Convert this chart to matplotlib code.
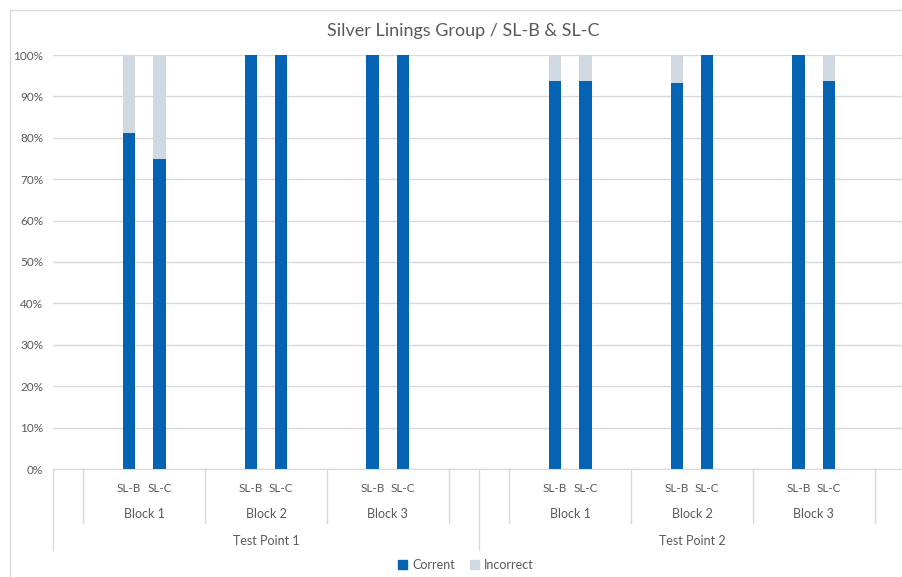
import matplotlib.pyplot as plt
import numpy as np
from matplotlib.patches import Patch, Rectangle
from matplotlib.lines import Line2D

plt.rcParams['font.family'] = ['Lato', 'DejaVu Sans']

# data ------------------------------------------------------------#
test_points = ["Test Point 1", "Test Point 2"]
blocks = ["Block 1", "Block 2", "Block 3"]
groups = ["SL-B", "SL-C"]
# % correct, ordered TP -> block -> group
correct = [81.25, 75.0, 100.0, 100.0, 100.0, 100.0,
           93.75, 93.75, 93.3, 100.0, 100.0, 93.75]
incorrect = [100 - c for c in correct]

BLUE = "#0563B3"
GREY = "#D0D8E2"
TXT = "#595959"
LINE = "#D9D9D9"

# each test point: 1 blank slot + 3 blocks x 4 slots + 1 blank slot
n_tp = 1 + 4 * len(blocks) + 1
xpos, xlab = [], []
for i in range(len(test_points)):
    for j in range(len(blocks)):
        for k in range(len(groups)):
            xpos.append(i * n_tp + 1 + 4 * j + 1 + k + 0.5)
            xlab.append(groups[k])
xpos = np.array(xpos)
correct = np.array(correct) / 100
incorrect = np.array(incorrect) / 100

W, H = 903, 577
fig = plt.figure(figsize=(W / 100, H / 100), dpi=100)

# chart frame
fig.patches.append(Rectangle((10 / W, -0.1), 1.2, 1 - 10 / H + 0.1,
                             transform=fig.transFigure, fill=False,
                             edgecolor=LINE, lw=1))

ax = fig.add_axes([53 / W, (H - 469) / H, 852 / W, 414 / H])
ax.bar(xpos, correct, width=0.4, color=BLUE, zorder=3)
ax.bar(xpos, incorrect, width=0.4, bottom=correct, color=GREY, zorder=3)

ax.set_xlim(0, 2 * n_tp)
ax.set_ylim(0, 1)
ax.set_yticks(np.arange(0, 1.01, 0.1))
ax.set_yticklabels([f"{int(round(v * 100))}%" for v in np.arange(0, 1.01, 0.1)])
ax.tick_params(axis='y', length=0, colors=TXT, labelsize=8.5, pad=7)
ax.set_xticks([])
ax.grid(axis='y', color=LINE, lw=1, zorder=0)
for s in ['top', 'right', 'left']:
    ax.spines[s].set_visible(False)
ax.spines['bottom'].set_color(LINE)
ax.spines['bottom'].set_zorder(4)

# multi-level category axis
tr = ax.get_xaxis_transform()
px = 1 / 414
for x, lab in zip(xpos, xlab):
    ax.text(x, -19 * px, lab, transform=tr, ha='center', va='center',
            fontsize=8.5, color=TXT)
for i, tp in enumerate(test_points):
    x0 = i * n_tp
    ax.text(x0 + n_tp / 2, -72 * px, tp, transform=tr, ha='center',
            va='center', fontsize=9, color=TXT)
    ax.add_line(Line2D([x0, x0], [0, -81 * px], transform=tr, color=LINE,
                       lw=1, clip_on=False))
    for j, b in enumerate(blocks):
        bx = x0 + 1 + 4 * j
        ax.text(bx + 2, -45 * px, b, transform=tr, ha='center', va='center',
                fontsize=9, color=TXT)
        ax.add_line(Line2D([bx, bx], [0, -54 * px], transform=tr, color=LINE,
                           lw=1, clip_on=False))
    bx = x0 + 1 + 4 * len(blocks)
    ax.add_line(Line2D([bx, bx], [0, -54 * px], transform=tr, color=LINE,
                       lw=1, clip_on=False))
ax.add_line(Line2D([2 * n_tp] * 2, [0, -81 * px], transform=tr, color=LINE,
                   lw=1, clip_on=False))

fig.text(463 / W, 1 - 31 / H, "Silver Linings Group / SL-B & SL-C",
         ha='center', va='center', fontsize=13, color=TXT)

handles = [Patch(color=BLUE, label="Corrent"), Patch(color=GREY, label="Incorrect")]
fig.legend(handles=handles, loc='center', bbox_to_anchor=(466 / W, 12 / H),
           ncol=2, frameon=False, fontsize=9, handlelength=0.7,
           handleheight=0.7, handletextpad=0.4, columnspacing=1.2,
           labelcolor=TXT)

fig.savefig("out.png", dpi=100)
